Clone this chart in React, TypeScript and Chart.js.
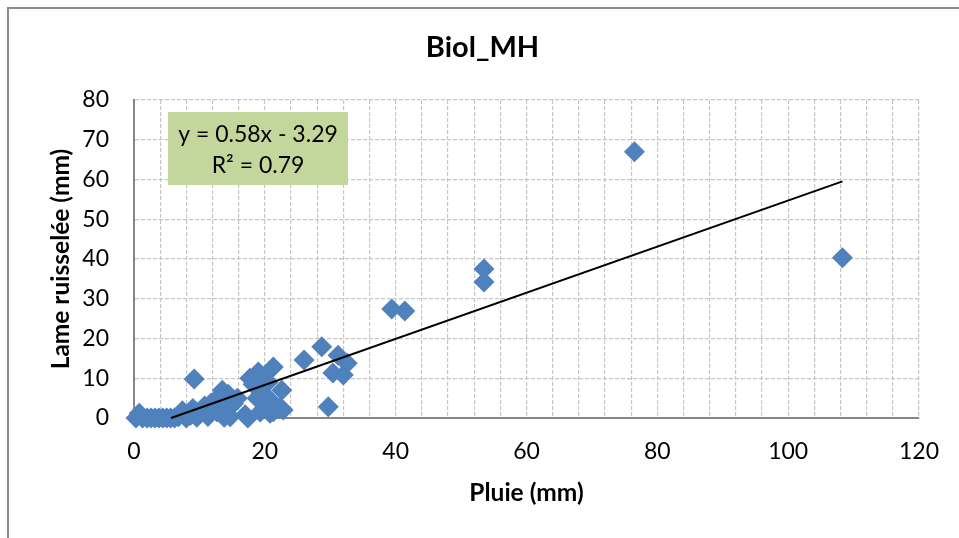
import React, { useEffect, useRef } from "react";
import { Chart, registerables } from "chart.js";

Chart.register(...registerables);

// Rainfall (mm) of each event
const rainfall = [
  0.3, 0.8, 1.3, 2.0, 2.6, 3.2, 3.8, 4.4, 5.0, 5.6, 6.2, 6.8, 7.4, 8.0, 8.6, 9.0,
  9.2, 9.6, 10.2, 10.8, 11.3, 11.8, 12.4, 12.7, 12.9, 13.5, 13.8, 14.2, 14.4, 14.7,
  15.2, 15.8, 17.0, 17.4, 17.7, 18.2, 18.8, 19.0, 19.3, 19.5, 20.3, 20.5, 20.8, 20.8,
  21.3, 21.3, 22.3, 22.6, 22.8, 26.0, 28.7, 29.7, 30.4, 31.2, 32.0, 32.6, 39.4, 41.4,
  53.5, 53.5, 76.5, 108.3,
];
// Runoff depth (mm) of each event
const runoff = [
  0, 1.2, 0, 0, 0, 0, 0, 0, 0, 0, 0, 0.3, 1.8, 0, 0.6, 2.4,
  9.8, 0.2, 1.4, 3.0, 0.4, 3.8, 2.2, 1.5, 5.2, 7.0, 0.2, 3.0, 6.0, 0.3,
  3.6, 5.0, 0.8, 0, 10, 8.5, 5, 11.6, 1.5, 6.2, 4.1, 9, 1.2, 4.5,
  1.6, 12.8, 2.5, 7, 2, 14.6, 17.9, 2.8, 11.3, 15.8, 10.8, 13.8, 27.4, 26.9,
  37.5, 34.2, 67.0, 40.3,
];

// Linear trend line (as printed on the chart)
const slope = 0.58;
const intercept = -3.29;
const trendX = [5.67, 108.3];
const equationLines = ["y = 0.58x - 3.29", "R² = 0.79"];

const chartTitle = "Biol_MH";
const xTitle = "Pluie (mm)";
const yTitle = "Lame ruisselée (mm)";

const xMin = 0;
const xMax = 120;
const xGridStep = 4;
const xLabelStep = 20;
const yMin = 0;
const yMax = 80;
const yStep = 10;

const FONT = "Lato, 'Open Sans', sans-serif";

const framePlugin = {
  id: "frame",
  beforeDraw(chart: any) {
    const { ctx } = chart;
    ctx.save();
    ctx.fillStyle = "#8c8c8c";
    ctx.fillRect(7, 7, 2, chart.height - 7);
    ctx.fillRect(7, 7, chart.width - 7, 2);
    ctx.restore();
  },
};

const equationPlugin = {
  id: "equationBox",
  afterDatasetsDraw(chart: any) {
    const { ctx, chartArea } = chart;
    const left = chartArea.left + 34;
    const top = chartArea.top + 12;
    const w = 180;
    const h = 73;
    ctx.save();
    ctx.fillStyle = "#C3D69B";
    ctx.fillRect(left, top, w, h);
    ctx.fillStyle = "#000";
    ctx.font = `23px ${FONT}`;
    ctx.textAlign = "center";
    ctx.textBaseline = "middle";
    ctx.fillText(equationLines[0], left + w / 2, top + 23);
    ctx.fillText(equationLines[1], left + w / 2, top + 54);
    ctx.restore();
  },
};

export default function App() {
  const ref = useRef<HTMLCanvasElement | null>(null);

  useEffect(() => {
    if (!ref.current) return;
    const points = rainfall.map((x, i) => ({ x, y: runoff[i] }));
    const trend = trendX.map((x) => ({ x, y: slope * x + intercept }));

    const chart = new Chart(ref.current, {
      type: "scatter",
      data: {
        datasets: [
          {
            label: "trend",
            data: trend,
            type: "line",
            showLine: true,
            borderColor: "#000000",
            borderWidth: 2,
            pointRadius: 0,
            fill: false,
            order: 0,
            clip: false,
          } as any,
          {
            label: "Biol_MH",
            data: points,
            pointStyle: "rectRot",
            pointRadius: 10.5,
            backgroundColor: "#4F81BD",
            borderColor: "#4F81BD",
            borderWidth: 0,
            order: 1,
            clip: false,
          } as any,
        ],
      },
      options: {
        animation: false,
        responsive: false,
        events: [],
        layout: { padding: { left: 46, right: 40, top: 0, bottom: 0 } },
        plugins: {
          legend: { display: false },
          tooltip: { enabled: false },
          title: {
            display: true,
            text: chartTitle,
            color: "#000",
            font: { family: FONT, size: 29, weight: "bold" },
            padding: { top: 30.6, bottom: 34.6 },
          },
        },
        scales: {
          x: {
            type: "linear",
            min: xMin,
            max: xMax,
            afterFit: (s: any) => {
              s.height = 120;
            },
            ticks: {
              stepSize: xGridStep,
              autoSkip: false,
              maxRotation: 0,
              padding: 20,
              color: "#000",
              font: { family: FONT, size: 23 },
              callback: (v: any) => (Number(v) % xLabelStep === 0 ? String(v) : ""),
            },
            grid: { color: "#c6c6c6", lineWidth: 1.2, drawTicks: false },
            border: { display: true, color: "#868686", width: 2, dash: [4, 2] },
            title: {
              display: true,
              text: xTitle,
              color: "#000",
              font: { family: FONT, size: 24.5, weight: "bold" },
              padding: { top: 0, bottom: 30.3 },
            },
          },
          y: {
            type: "linear",
            min: yMin,
            max: yMax,
            afterFit: (s: any) => {
              s.width = 88;
            },
            ticks: {
              stepSize: yStep,
              padding: 25,
              color: "#000",
              font: { family: FONT, size: 23 },
            },
            grid: { color: "#c6c6c6", lineWidth: 1.2, drawTicks: false },
            border: { display: true, color: "#868686", width: 2, dash: [4, 2] },
            title: {
              display: true,
              text: yTitle,
              color: "#000",
              font: { family: FONT, size: 24.5, weight: "bold" },
              padding: { top: 0, bottom: 0 },
            },
          },
        },
      },
      plugins: [framePlugin, equationPlugin],
    });
    return () => chart.destroy();
  }, []);

  return (
    <div style={{ position: "absolute", left: 0, top: 0, width: 959, height: 538, background: "#fff" }}>
      <canvas ref={ref} width={959} height={538} style={{ display: "block", width: 959, height: 538 }} />
    </div>
  );
}
